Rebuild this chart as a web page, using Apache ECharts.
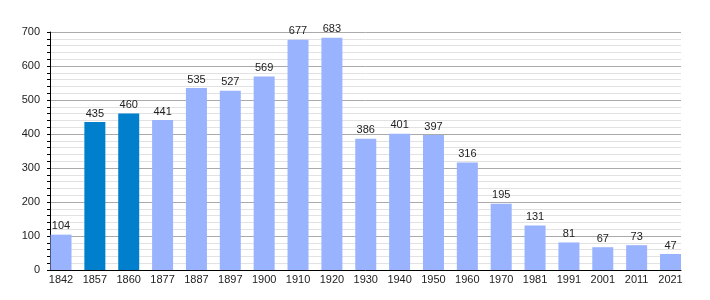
<!DOCTYPE html>
<html><head><meta charset="utf-8">
<script src="https://cdn.jsdelivr.net/npm/echarts@6/dist/echarts.min.js"></script>
<style>html,body{margin:0;padding:0;background:#fff}#c{width:710px;height:300px}</style>
</head><body><div id="c"></div>
<script>
const categories = ['1842','1857','1860','1877','1887','1897','1900','1910','1920','1930','1940','1950','1960','1970','1981','1991','2001','2011','2021'];
const values = [104,435,460,441,535,527,569,677,683,386,401,397,316,195,131,81,67,73,47];
const highlighted = ['1857','1860'];
const yTicks = [0,100,200,300,400,500,600,700];

const chart = echarts.init(document.getElementById('c'), null, {renderer:'canvas'});
const font = 'Liberation Sans, Arial, sans-serif';
chart.setOption({
  animation:false,
  grid:[
    {left:50,right:29,top:32,bottom:30},
    {left:44.07,right:22.57,top:32,bottom:30}
  ],
  xAxis:[
    {gridIndex:0,type:'category',data:categories,axisLine:{lineStyle:{color:'#000',width:1}},axisTick:{show:false},axisLabel:{show:false},splitLine:{show:false}},
    {gridIndex:1,type:'category',data:categories,axisLine:{show:false},axisTick:{show:false},
     axisLabel:{color:'#222',fontFamily:font,fontSize:11,margin:4,interval:0}}
  ],
  yAxis:[
    {gridIndex:0,type:'value',min:yTicks[0],max:yTicks[yTicks.length-1],interval:100,
     axisLine:{show:true,lineStyle:{color:'#000'}},
     axisTick:{show:true,length:3,inside:false,lineStyle:{color:'#000'}},
     minorTick:{show:true,splitNumber:5,length:3,lineStyle:{color:'#000'}},
     axisLabel:{color:'#222',fontFamily:font,fontSize:11,margin:10},
     splitLine:{show:true,lineStyle:{color:'#aaaaaa',width:1}},
     minorSplitLine:{show:true,lineStyle:{color:'#e2e2e2',width:1}}},
    {gridIndex:1,type:'value',min:0,max:700,show:false,splitLine:{show:false}}
  ],
  series:[{
    type:'bar',xAxisIndex:1,yAxisIndex:1,barWidth:21,
    data:values.map((v,i)=>({value:v,itemStyle:{color:highlighted.includes(categories[i])?'#0080cc':'#99b3ff'}})),
    label:{show:true,position:'top',distance:3,color:'#222',fontFamily:font,fontSize:11}
  }]
});
</script></body></html>
